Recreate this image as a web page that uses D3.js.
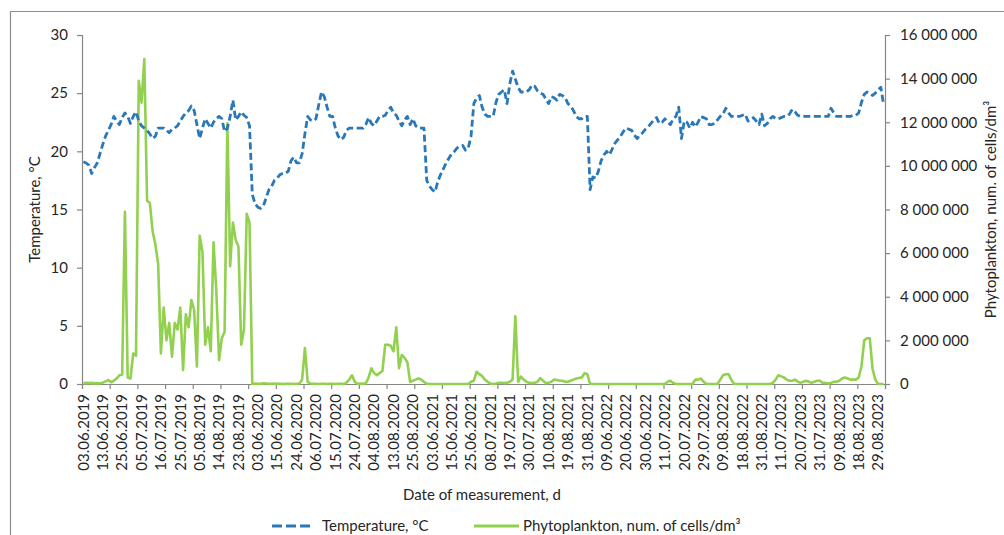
<!DOCTYPE html>
<html>
<head>
<meta charset="utf-8">
<script src="https://cdn.jsdelivr.net/npm/d3@7"></script>
<style>
  body { margin: 0; background: #fff; }
  text { font-family: Lato, "Open Sans", sans-serif; fill: #262626; }
</style>
</head>
<body>
<svg id="chart" width="1004" height="535"></svg>
<script>
// Measurement dates shown on the axis (every 7th sampling day)
const dateLabels = [
  "03.06.2019","13.06.2019","25.06.2019","05.07.2019","16.07.2019","25.07.2019","05.08.2019","14.08.2019","23.08.2019",
  "03.06.2020","15.06.2020","24.06.2020","06.07.2020","15.07.2020","24.07.2020","04.08.2020","13.08.2020","25.08.2020",
  "03.06.2021","15.06.2021","25.06.2021","08.07.2021","19.07.2021","30.07.2021","10.08.2021","19.08.2021","31.08.2021",
  "09.06.2022","20.06.2022","30.06.2022","11.07.2022","20.07.2022","29.07.2022","09.08.2022","18.08.2022","31.08.2022",
  "11.07.2023","20.07.2023","31.07.2023","09.08.2023","18.08.2023","29.08.2023"
];
const labelEvery = 7;   // one date label per 7 sampling days
const tickEvery = 10;   // one tick mark per 10 sampling days

// Water temperature, °C (one value per sampling day)
const temperature = [
  19.1,19.0,18.8,18.1,18.6,19.0,19.8,20.6,21.3,21.8,
  22.3,23.0,22.6,22.3,22.9,23.3,23.0,22.4,23.0,23.4,
  22.6,22.2,22.0,21.8,21.5,21.1,21.3,22.0,22.0,22.0,
  21.8,21.6,21.9,22.0,22.2,22.6,23.0,23.3,23.5,23.9,
  23.5,22.3,21.1,22.0,22.8,22.4,22.0,22.5,22.8,23.0,
  22.8,21.7,22.0,23.0,24.4,22.7,23.0,23.4,23.1,22.9,
  22.2,16.3,15.5,15.2,15.1,15.3,16.0,16.7,17.0,17.5,
  17.7,18.0,18.1,18.1,18.3,19.2,19.5,19.0,19.0,19.8,
  21.5,23.0,22.7,22.6,22.8,24.0,25.1,24.7,23.8,23.0,
  23.0,22.0,21.3,21.0,21.2,21.8,22.0,22.0,22.0,22.0,
  22.0,22.0,22.3,22.9,22.4,22.2,22.6,23.0,23.0,23.1,
  23.5,23.8,23.3,23.1,22.6,22.2,22.7,23.0,22.3,22.8,
  22.2,22.0,22.0,22.0,17.5,17.0,16.7,16.5,17.4,18.0,
  18.5,19.0,19.4,19.8,20.0,20.3,20.4,20.5,20.1,20.3,
  21.3,24.1,24.6,24.8,23.8,23.2,23.0,23.0,23.0,24.2,
  24.9,25.1,25.3,24.1,25.8,26.9,26.2,25.5,25.1,25.1,
  25.1,25.3,25.7,25.6,25.2,25.0,24.9,24.5,24.1,24.7,
  24.6,24.4,24.9,24.8,24.6,24.1,23.9,23.5,23.0,22.8,
  22.8,23.0,23.0,16.7,17.8,17.7,18.3,19.2,19.7,20.0,
  19.7,20.2,20.7,21.0,21.3,21.7,22.0,21.9,21.8,21.4,
  21.1,21.4,21.6,21.9,22.1,22.4,22.7,22.9,22.4,22.5,
  22.8,22.5,22.3,22.8,23.0,23.8,21.1,22.6,22.5,22.0,
  22.5,22.1,22.5,23.0,22.9,22.8,22.3,22.3,22.4,22.7,
  23.0,23.2,23.7,23.3,23.0,23.0,23.0,23.0,23.1,23.2,
  22.6,22.8,22.9,22.6,22.3,23.2,22.2,22.4,22.8,23.0,
  22.8,22.8,22.9,23.0,23.0,23.2,23.6,23.4,23.1,23.0,
  23.0,23.0,23.0,23.0,23.0,23.0,23.0,23.0,23.0,23.0,
  23.7,23.3,23.0,23.0,23.0,23.0,23.0,23.0,23.1,23.1,
  23.3,24.2,24.9,25.1,25.0,24.8,25.0,25.3,25.5,24.0
];

// Phytoplankton abundance, cells/dm³ (one value per sampling day)
const phytoplankton = [
  30000,50000,40000,50000,30000,40000,30000,60000,120000,180000,
  80000,150000,250000,400000,420000,7900000,300000,250000,1400000,1300000,
  13900000,12900000,14900000,8400000,8300000,7000000,6400000,5500000,1400000,3500000,
  2000000,2800000,1250000,2800000,2500000,3500000,640000,3200000,2600000,3850000,
  3400000,800000,6800000,6070000,1800000,2600000,1500000,6500000,4300000,1100000,
  2100000,2400000,11950000,5400000,7400000,6600000,6300000,1800000,2500000,7800000,
  7400000,0,20000,10000,10000,30000,20000,10000,10000,20000,
  10000,10000,0,10000,10000,10000,0,10000,20000,200000,
  1650000,100000,20000,10000,10000,0,10000,10000,0,10000,
  10000,0,10000,10000,0,60000,200000,400000,100000,10000,
  20000,10000,30000,300000,720000,500000,400000,500000,600000,1800000,
  1800000,1750000,1500000,2600000,720000,1330000,1200000,1000000,100000,150000,
  200000,260000,200000,100000,10000,0,0,0,0,0,
  0,0,0,0,0,0,0,0,0,0,
  100000,150000,560000,450000,360000,200000,100000,20000,0,20000,
  60000,60000,40000,50000,100000,200000,3100000,100000,340000,200000,
  100000,50000,40000,50000,100000,270000,150000,40000,50000,100000,
  200000,180000,150000,150000,100000,100000,150000,200000,250000,280000,
  300000,500000,450000,0,0,0,0,0,0,0,
  0,0,0,0,0,0,0,0,0,0,
  0,0,0,0,0,0,0,0,0,0,
  0,100000,150000,50000,0,0,0,0,0,0,
  0,200000,200000,250000,100000,0,0,0,0,0,
  200000,400000,450000,450000,200000,0,0,0,0,0,
  0,0,0,0,0,0,0,0,0,50000,
  200000,400000,350000,300000,200000,150000,150000,200000,100000,50000,
  100000,150000,100000,50000,100000,150000,150000,50000,50000,20000,
  50000,100000,100000,150000,250000,300000,250000,200000,200000,200000,
  300000,800000,2000000,2100000,2100000,700000,200000,0,0,0
];

const tempTicks = [0, 5, 10, 15, 20, 25, 30];
const phytoTicks = [0, 2000000, 4000000, 6000000, 8000000, 10000000, 12000000, 14000000, 16000000];

const svg = d3.select("#chart");
const plot = { left: 82, right: 885, top: 35, bottom: 384 };
const axisColor = "#868686";

// outer frame of the chart area
svg.append("path")
  .attr("d", `M10.5,535 V11.5 H1004`)
  .attr("fill", "none").attr("stroke", "#8c8c8c").attr("stroke-width", 1.2);

const n = temperature.length;
const x = d3.scaleBand().domain(d3.range(n)).range([plot.left, plot.right]).paddingInner(0).paddingOuter(0);
const xEdge = d3.scaleLinear().domain([0, n]).range([plot.left, plot.right]);
const cx = i => x(i) + x.bandwidth() / 2;

const yT = d3.scaleLinear().domain([0, 30]).range([plot.bottom, plot.top]);
const yP = d3.scaleLinear().domain([0, 16000000]).range([plot.bottom, plot.top]);

const fmtSpace = v => d3.format(",")(v).replace(/,/g, " ");

// left axis (temperature)
const gL = svg.append("g").attr("transform", `translate(${plot.left},0)`)
  .call(d3.axisLeft(yT).tickValues(tempTicks).tickSize(5).tickPadding(9).tickFormat(d3.format("d")));
// right axis (phytoplankton)
const gR = svg.append("g").attr("transform", `translate(${plot.right},0)`)
  .call(d3.axisRight(yP).tickValues(phytoTicks).tickSize(5).tickPadding(10).tickFormat(fmtSpace));
// bottom tick marks every 10 sampling days
const gB = svg.append("g").attr("transform", `translate(0,${plot.bottom})`)
  .call(d3.axisBottom(xEdge).tickValues(d3.range(0, n + 1, tickEvery)).tickSize(5).tickFormat(""));
// bottom date labels every 7 sampling days
const labelIdx = dateLabels.map((d, k) => k * labelEvery);
const gBL = svg.append("g").attr("transform", `translate(0,${plot.bottom})`)
  .call(d3.axisBottom(x).tickValues(labelIdx).tickSize(0).tickFormat((d, k) => dateLabels[k]));

[gL, gR, gB, gBL].forEach(g => {
  g.select(".domain").attr("stroke", axisColor).attr("stroke-width", 1.2);
  g.selectAll(".tick line").attr("stroke", axisColor).attr("stroke-width", 1.2);
  g.selectAll("text").attr("font-size", 15).attr("font-family", "Lato, 'Open Sans', sans-serif").attr("fill", "#262626");
});
gBL.select(".domain").remove();
gBL.selectAll(".tick text")
  .attr("transform", "rotate(-90)")
  .attr("text-anchor", "end")
  .attr("dy", "0.35em")
  .attr("x", -10)
  .attr("y", 0);

// series lines
const tempLine = d3.line().x((d, i) => cx(i)).y(d => yT(d));
const phytoLine = d3.line().x((d, i) => cx(i)).y(d => yP(d));

svg.append("path").datum(phytoplankton)
  .attr("d", phytoLine)
  .attr("fill", "none").attr("stroke", "#92d050").attr("stroke-width", 2.6)
  .attr("stroke-linejoin", "round");

svg.append("path").datum(temperature)
  .attr("d", tempLine)
  .attr("fill", "none").attr("stroke", "#2a78b8").attr("stroke-width", 2.8)
  .attr("stroke-dasharray", "7,3.5").attr("stroke-linejoin", "round");

// axis titles
svg.append("text").attr("transform", `translate(40,${(plot.top + plot.bottom) / 2}) rotate(-90)`)
  .attr("text-anchor", "middle").attr("font-size", 15).text("Temperature, °C");
svg.append("text").attr("transform", `translate(996,${(plot.top + plot.bottom) / 2}) rotate(-90)`)
  .attr("text-anchor", "middle").attr("font-size", 15).text("Phytoplankton, num. of cells/dm³");
svg.append("text").attr("x", 482).attr("y", 500)
  .attr("text-anchor", "middle").attr("font-size", 15).text("Date of measurement, d");

// legend
const legend = svg.append("g").attr("transform", "translate(0,526)");
legend.append("line").attr("x1", 272).attr("x2", 312).attr("y1", 0).attr("y2", 0)
  .attr("stroke", "#2a78b8").attr("stroke-width", 3).attr("stroke-dasharray", "10,4");
legend.append("text").attr("x", 322).attr("y", 0).attr("dy", "0.35em").attr("font-size", 15).text("Temperature, °C");
legend.append("line").attr("x1", 474).attr("x2", 519).attr("y1", 0).attr("y2", 0)
  .attr("stroke", "#92d050").attr("stroke-width", 3);
legend.append("text").attr("x", 523).attr("y", 0).attr("dy", "0.35em").attr("font-size", 15).text("Phytoplankton, num. of cells/dm³");
</script>
</body>
</html>
